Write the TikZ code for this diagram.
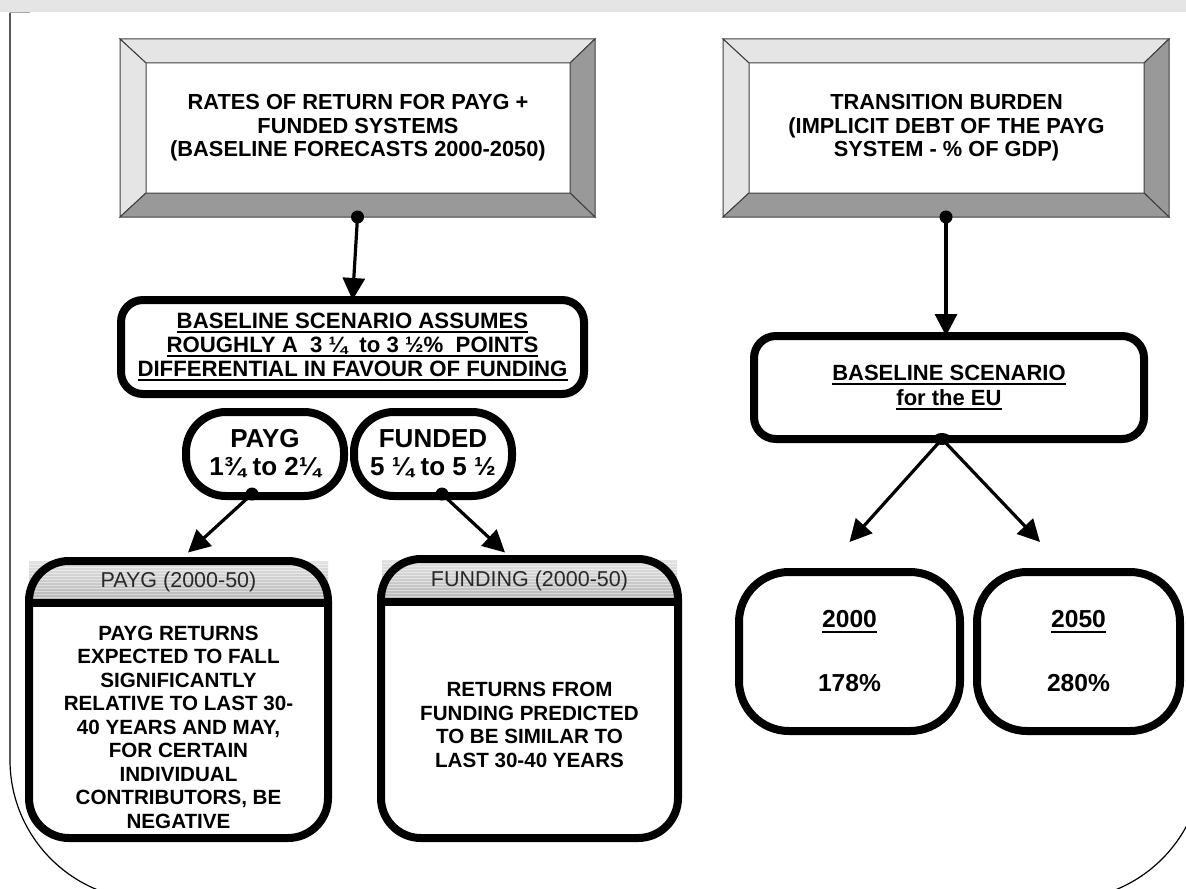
\documentclass[tikz,border=0pt]{standalone}
\usepackage{fontspec}
\setmainfont{Liberation Sans}
\usetikzlibrary{arrows.meta,calc,shapes.geometric}
\definecolor{bevlight}{RGB}{229,229,229}
\definecolor{bevdark}{RGB}{153,153,153}
\definecolor{bandgray}{RGB}{229,229,229}
\definecolor{hdrtext}{RGB}{40,40,40}
\newcommand{\ulx}[1]{\leavevmode\setbox0=\hbox{#1}\rlap{\rule[-2.3pt]{\wd0}{0.85pt}}\box0}
\newcommand{\bevelfor}[1]{%
  \coordinate (#1-onw) at ($(#1.north west)+(-26,-24)$);
  \coordinate (#1-one) at ($(#1.north east)+(25,-24)$);
  \coordinate (#1-osw) at ($(#1.south west)+(-26,24)$);
  \coordinate (#1-ose) at ($(#1.south east)+(25,24)$);
  \draw[bevline,fill=bevlight] (#1-onw) -- (#1-one) -- (#1.north east) -- (#1.north west) -- cycle;
  \draw[bevline,fill=bevlight] (#1-onw) -- (#1.north west) -- (#1.south west) -- (#1-osw) -- cycle;
  \draw[bevline,fill=bevdark] (#1-one) -- (#1-ose) -- (#1.south east) -- (#1.north east) -- cycle;
  \draw[bevline,fill=bevdark] (#1-osw) -- (#1.south west) -- (#1.south east) -- (#1-ose) -- cycle;
}
\begin{document}
\begin{tikzpicture}[x=0.5pt,y=-0.5pt,
  heavybox/.style={draw,line width=4pt,inner sep=0pt,outer sep=0pt,align=center},
  conn/.style={line width=1.6pt,-{Triangle[width=11pt,length=11pt]}},
  dotnode/.style={circle,fill,inner sep=0pt,minimum size=6.5pt},
  eudot/.style={ellipse,fill,inner sep=0pt,minimum width=9pt,minimum height=6pt},
  bevline/.style={draw=black!75,line width=0.5pt},
  innerbox/.style={inner sep=0pt,outer sep=0pt,align=center,minimum height=65pt},
  hdr/.style={inner sep=0pt,outer sep=0pt,top color=gray!22,bottom color=gray!60,
     minimum height=21pt,text=hdrtext,font=\fontsize{10.75}{12}\selectfont,
     path picture={\foreach \k in {1,...,13}{\draw[white,opacity=0.45,line width=0.45pt]
        ([yshift=-\k*1.5pt]path picture bounding box.north west) --
        ([yshift=-\k*1.5pt]path picture bounding box.north east);}}},
  titletext/.style={font=\fontsize{10.9}{11.75}\selectfont\bfseries},
  bodytext/.style={font=\fontsize{10.3}{11.75}\selectfont\bfseries,align=center,inner sep=0pt},
  yearbox/.style={heavybox,rounded corners=25pt,minimum height=79.5pt,
     font=\fontsize{12.3}{32}\selectfont\bfseries},
]
\clip (0,0) rectangle (1186,888);
\fill[bandgray] (0,0) rectangle (1186,12);
\draw[black!35,line width=0.5pt] (10,13) -- (30,13);
\draw[line width=0.6pt,rounded corners=70pt] (10,13) -- (10,900) -- (1203,900) -- (1203,13);

% ---------- left column ----------
\node[innerbox,titletext,minimum width=212pt] (b1) at (358,128)
  {RATES OF RETURN FOR PAYG +\\FUNDED SYSTEMS\\(BASELINE FORECASTS 2000-2050)};
\bevelfor{b1}
\node[dotnode] (d1) at ($(b1-osw)!0.5!(b1-ose)$) {};

\node[heavybox,rounded corners=11pt,minimum width=231.5pt,minimum height=47pt,
      font=\fontsize{11.1}{12}\selectfont\bfseries] (assume) at (352.5,347)
  {\ulx{BASELINE SCENARIO ASSUMES}\\\ulx{ROUGHLY A~~3~¼~~to 3~½\%~~POINTS}\\\ulx{DIFFERENTIAL IN FAVOUR OF FUNDING}};
\draw[conn] (d1.center) -- (assume.north);

\node[heavybox,rounded corners=20pt,minimum width=79pt,minimum height=42pt,
      font=\fontsize{13}{14}\selectfont\bfseries] (payg) at (265,454) {PAYG\\1¾ to 2¼};
\node[heavybox,rounded corners=20pt,minimum width=79pt,minimum height=42pt,
      font=\fontsize{13}{14}\selectfont\bfseries] (funded) at (433,454) {FUNDED\\5 ¼ to 5 ½};
\node[dotnode] (d3) at ([xshift=-6.5pt,yshift=1pt]payg.south) {};
\node[dotnode] (d4) at ([xshift=4.5pt,yshift=1pt]funded.south) {};

% PAYG (2000-50) box
\node[hdr,minimum width=149.5pt] (ph) at (178.5,582) {PAYG (2000-50)};
\node[heavybox,rounded corners=20pt,minimum width=149.5pt,minimum height=138.5pt] (pbox) at (178.5,699.5) {};
\draw[line width=4pt] (pbox.west |- ph.south) -- (pbox.east |- ph.south);
\node[bodytext] (ptext) at (178.5,727)
  {PAYG RETURNS\\EXPECTED TO FALL\\SIGNIFICANTLY\\RELATIVE TO LAST 30-\\40 YEARS AND MAY,\\FOR CERTAIN\\INDIVIDUAL\\CONTRIBUTORS, BE\\NEGATIVE};

% FUNDING (2000-50) box
\node[hdr,minimum width=147.5pt] (fh) at (529.5,581) {FUNDING (2000-50)};
\node[heavybox,rounded corners=20pt,minimum width=148.5pt,minimum height=139.5pt] (fbox) at (529.5,698.5) {};
\draw[line width=4pt] (fbox.west |- fh.south) -- (fbox.east |- fh.south);
\node[bodytext] (ftext) at (529.5,725)
  {RETURNS FROM\\FUNDING PREDICTED\\TO BE SIMILAR TO\\LAST 30-40 YEARS};

\coordinate (t1) at ([xshift=4.75pt,yshift=4.25pt]pbox.north);
\coordinate (t2) at ([xshift=-12.25pt,yshift=3.25pt]fbox.north);
\draw[conn] (d3.center) -- (t1);
\draw[conn] (d4.center) -- (t2);

% ---------- right column ----------
\node[innerbox,titletext,minimum width=197.5pt] (b2) at (946.5,128)
  {TRANSITION BURDEN\\(IMPLICIT DEBT OF THE PAYG\\SYSTEM - \% OF GDP)};
\bevelfor{b2}
\node[dotnode] (d2) at ($(b2-osw)!0.5!(b2-ose)$) {};

\node[heavybox,rounded corners=11pt,minimum width=195pt,minimum height=51.5pt,
      font=\fontsize{11}{12.5}\selectfont\bfseries] (eu) at (949,387.5)
  {\ulx{BASELINE SCENARIO}\\\ulx{for the EU}};
\draw[conn] (d2.center) -- (d2 |- eu.north);
\node[eudot] (d5) at ([xshift=-3.5pt]eu.south) {};

\node[yearbox,minimum width=110.5pt] (y2000) at (849.5,651.5) {\ulx{2000}\\178\%};
\node[yearbox,minimum width=101.5pt] (y2050) at (1078.5,651.5) {\ulx{2050}\\280\%};
\coordinate (t3) at ([yshift=15pt]y2000.north);
\coordinate (t4) at ([xshift=-19.25pt,yshift=15pt]y2050.north);
\draw[conn] (d5.center) -- (t3);
\draw[conn] (d5.center) -- (t4);
\end{tikzpicture}
\end{document}
